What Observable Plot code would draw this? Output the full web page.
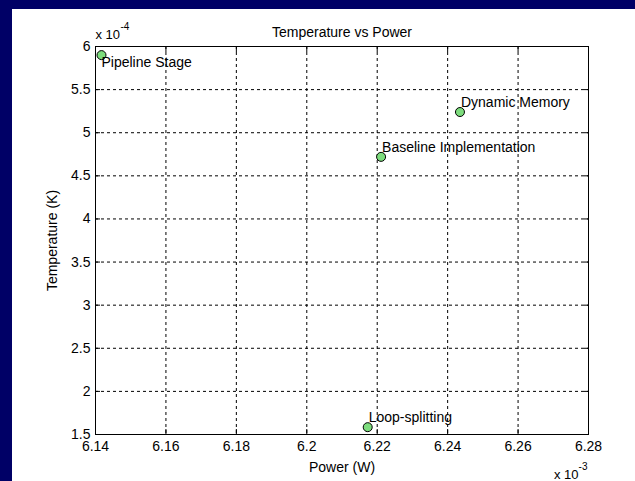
<!DOCTYPE html>
<html>
<head>
<meta charset="utf-8">
<script src="https://cdn.jsdelivr.net/npm/d3@7"></script>
<script src="https://cdn.jsdelivr.net/npm/@observablehq/plot@0.6"></script>
<style>
  html, body { margin: 0; padding: 0; width: 635px; height: 481px; overflow: hidden; background: #000066; }
  #chart { position: absolute; left: 12px; top: 9px; width: 623px; height: 472px; background: #ffffff; }
  #chart svg { display: block; }
</style>
</head>
<body>
<div id="chart"></div>
<script>
// Data (x in units of 10^-3 W, y in units of 10^-4 K)
const names = ["Pipeline Stage", "Dynamic Memory", "Baseline Implementation", "Loop-splitting"];
const power = [6.1417, 6.2435, 6.2211, 6.2173];
const temperature = [5.90, 5.24, 4.72, 1.585];
const xTicks = [6.14, 6.16, 6.18, 6.2, 6.22, 6.24, 6.26, 6.28];
const yTicks = [1.5, 2, 2.5, 3, 3.5, 4, 4.5, 5, 5.5, 6];
const title = "Temperature vs Power";
const xLabel = "Power (W)";
const yLabel = "Temperature (K)";
const xExp = "-3";
const yExp = "-4";

const data = names.map((n, i) => ({name: n, power: power[i], temperature: temperature[i]}));
const below = data.filter(d => d.name === "Pipeline Stage");
const above = data.filter(d => d.name !== "Pipeline Stage");

const font = "'Liberation Sans', Arial, Helvetica, sans-serif";
const fs = 14;

const chart = Plot.plot({
  width: 623,
  height: 472,
  marginLeft: 83,
  marginRight: 47,
  marginTop: 37,
  marginBottom: 47,
  style: {background: "#ffffff", fontFamily: font, fontSize: fs + "px", color: "#000"},
  x: {domain: [xTicks[0], xTicks[xTicks.length - 1]], label: null},
  y: {domain: [yTicks[0], yTicks[yTicks.length - 1]], label: null},
  marks: [
    Plot.gridX(xTicks, {stroke: "#000", strokeOpacity: 1, strokeDasharray: "3,3", strokeWidth: 1}),
    Plot.gridY(yTicks, {stroke: "#000", strokeOpacity: 1, strokeDasharray: "3,3", strokeWidth: 1}),
    Plot.axisX({ticks: xTicks, anchor: "bottom", tickSize: -5, tickPadding: 12, tickFormat: d => String(d), fontSize: fs, label: null}),
    Plot.axisX({ticks: xTicks, anchor: "top", tickSize: -5, tickFormat: () => "", label: null}),
    Plot.axisY({ticks: yTicks, anchor: "left", tickSize: -5, tickPadding: 10, tickFormat: d => String(d), fontSize: fs, label: null}),
    Plot.axisY({ticks: yTicks, anchor: "right", tickSize: -5, tickFormat: () => "", label: null}),
    Plot.frame({stroke: "#000", strokeWidth: 1}),
    Plot.dot(data, {x: "power", y: "temperature", r: 4.5, fill: "#7ddc7d", stroke: "#000", strokeWidth: 1}),
    Plot.text(above, {x: "power", y: "temperature", text: "name", textAnchor: "start", lineAnchor: "bottom", dx: 1, dy: -5, fontSize: fs, fill: "#000"}),
    Plot.text(below, {x: "power", y: "temperature", text: "name", textAnchor: "start", lineAnchor: "bottom", dx: 0, dy: 12, fontSize: fs, fill: "#000"}),
    Plot.text([title], {frameAnchor: "top", lineAnchor: "bottom", dy: -10, fontSize: fs, fill: "#000"}),
    Plot.text([xLabel], {frameAnchor: "bottom", lineAnchor: "top", dy: 28, fontSize: fs, fill: "#000"}),
    Plot.text([yLabel], {frameAnchor: "left", rotate: -90, lineAnchor: "middle", textAnchor: "middle", dx: -43, fontSize: fs, fill: "#000"}),
    Plot.text(["x 10"], {frameAnchor: "top-left", textAnchor: "start", lineAnchor: "bottom", dy: -8, fontSize: 13, fill: "#000"}),
    Plot.text([yExp], {frameAnchor: "top-left", textAnchor: "start", lineAnchor: "bottom", dx: 25, dy: -17, fontSize: 10, fill: "#000"}),
    Plot.text(["x 10"], {frameAnchor: "bottom-right", textAnchor: "end", lineAnchor: "bottom", dx: -10, dy: 44, fontSize: 13, fill: "#000"}),
    Plot.text([xExp], {frameAnchor: "bottom-right", textAnchor: "end", lineAnchor: "bottom", dx: -1, dy: 35, fontSize: 10, fill: "#000"})
  ]
});
document.getElementById("chart").appendChild(chart);
</script>
</body>
</html>
